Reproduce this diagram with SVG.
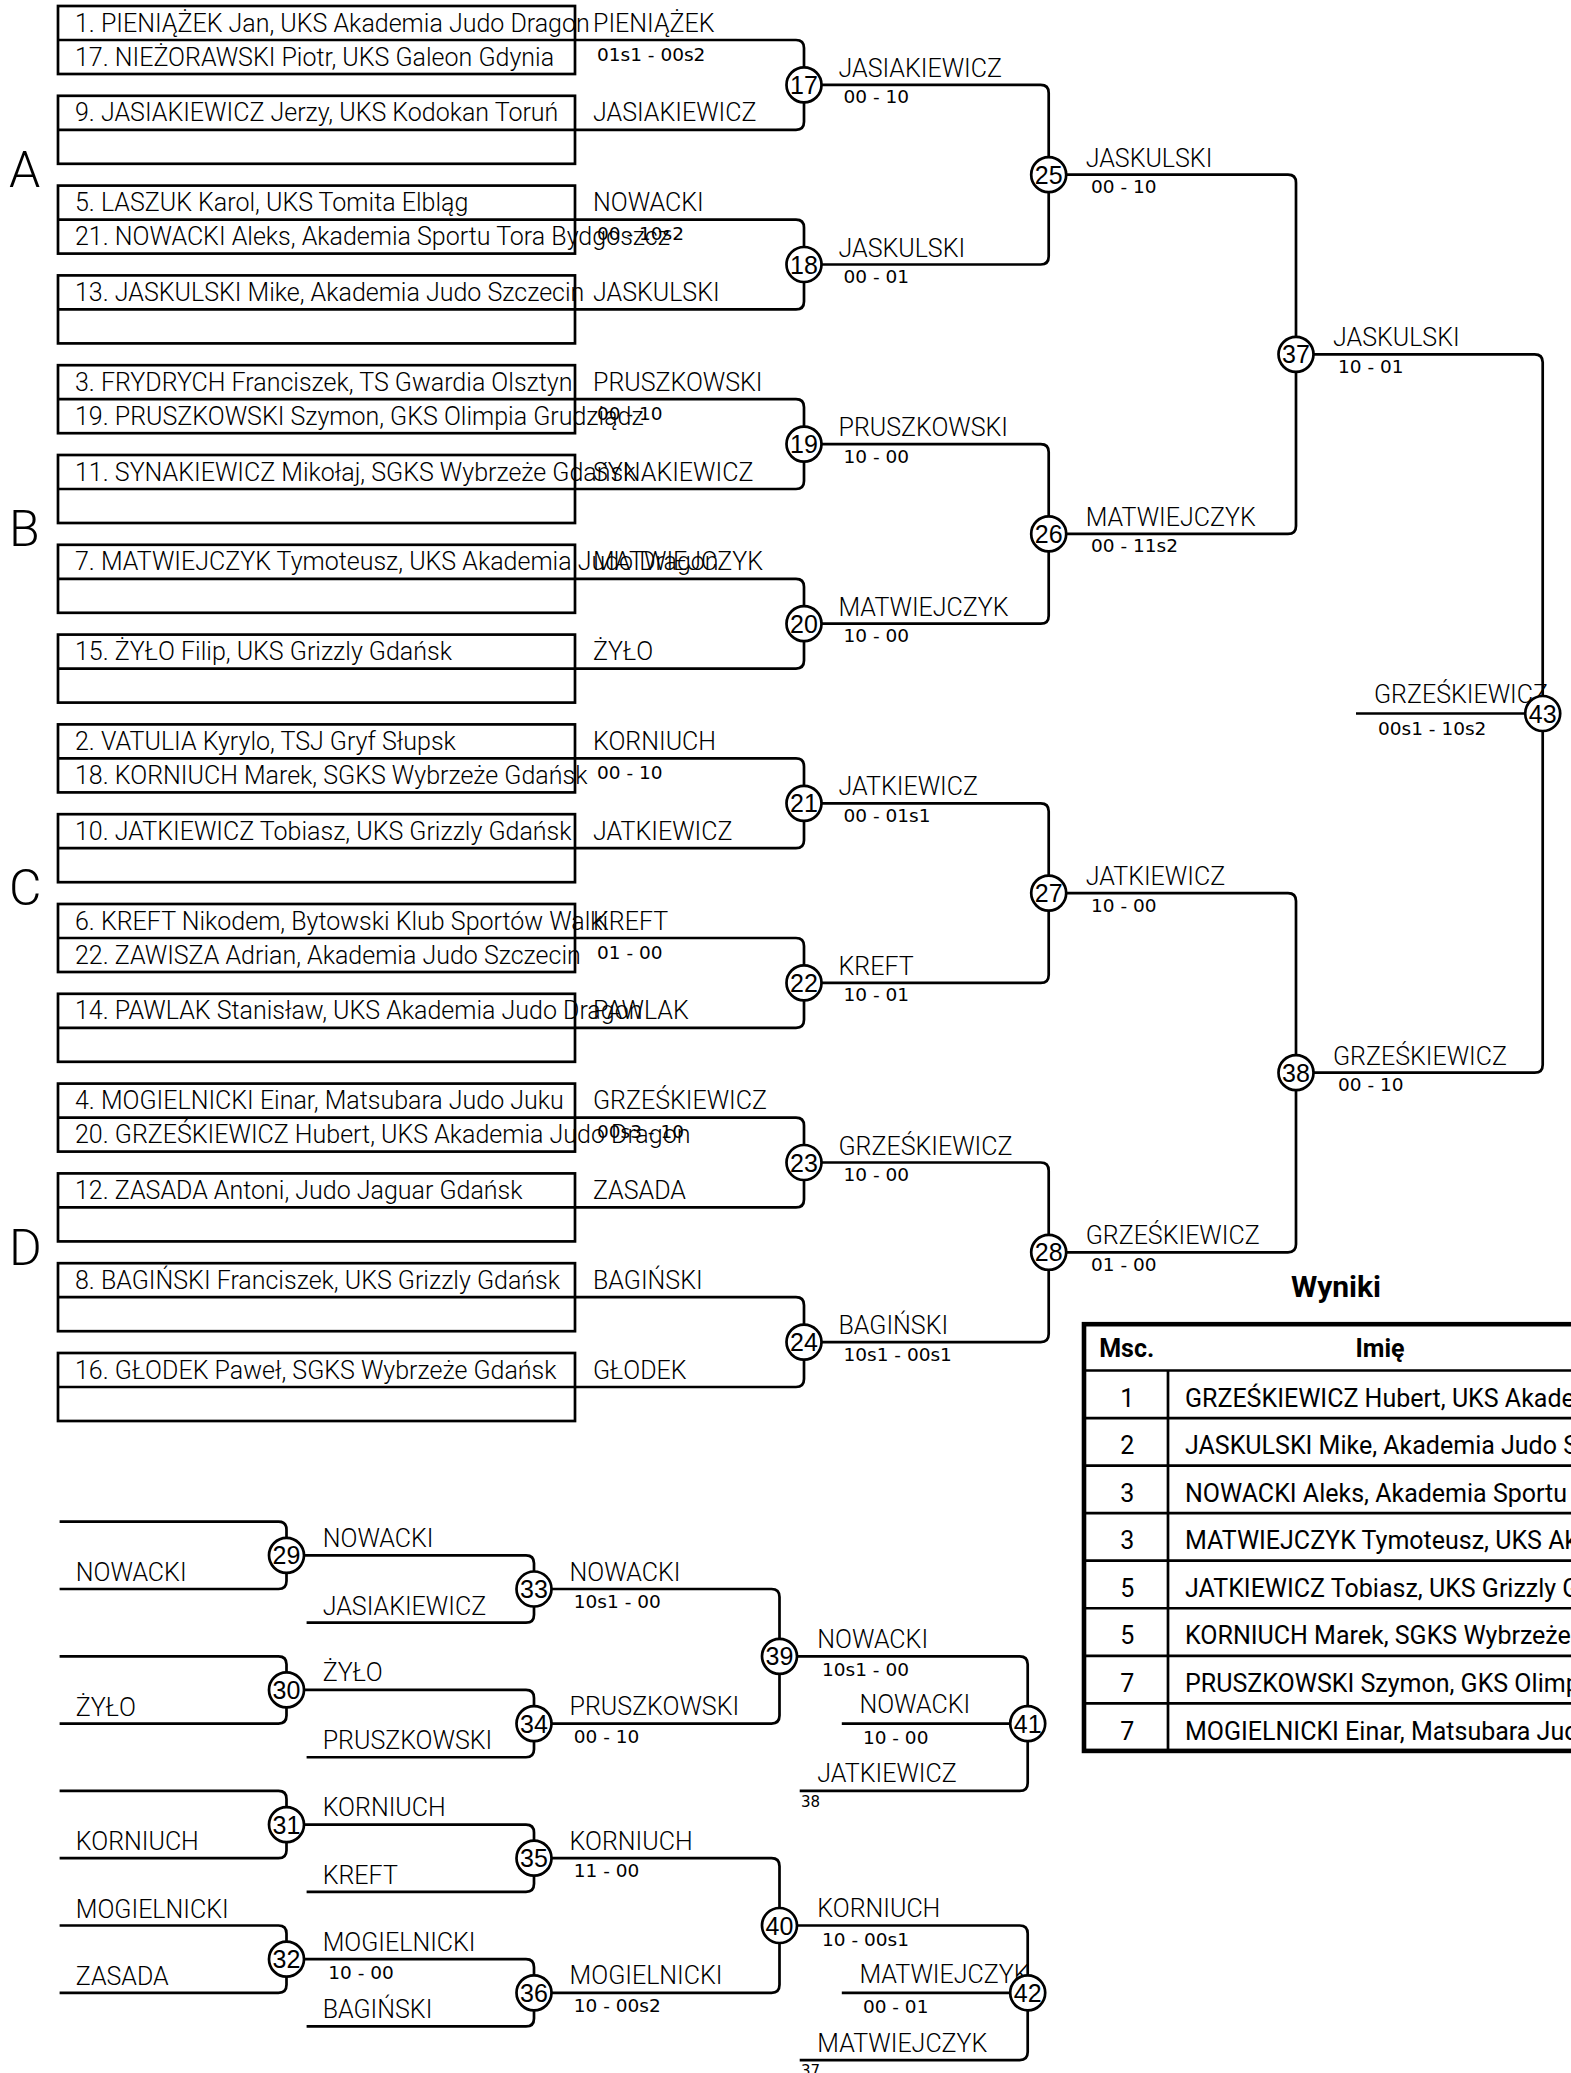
<svg xmlns="http://www.w3.org/2000/svg" width="1571" height="2073" viewBox="0 0 1571 2073">
<style>
.bx{fill:none;stroke:#000;stroke-width:2.7}
.ln{fill:none;stroke:#000;stroke-width:2.7}
.cc{fill:#fff;stroke:#000;stroke-width:2.7}
.nm{font-family:Roboto,"Liberation Sans",sans-serif;font-size:25px;font-weight:300;fill:#000}
.sc{font-family:"DejaVu Sans",sans-serif;font-size:18.5px;fill:#000}
.sm{font-family:"DejaVu Sans",sans-serif;font-size:15px;fill:#000}
.cn{font-family:"Liberation Sans",Arial,sans-serif;font-size:25px;text-anchor:middle;fill:#000}
.gl{font-family:Roboto,"Liberation Sans",sans-serif;font-size:50px;font-weight:300;fill:#000}
.th{font-family:Roboto,"Liberation Sans",sans-serif;font-size:25px;font-weight:700;fill:#000}
.td{font-family:Roboto,"Liberation Sans",sans-serif;font-size:25px;font-weight:400;fill:#000}
.mid{text-anchor:middle}
</style>
<rect width="1571" height="2073" fill="#fff"/>

<g id="connectors">
<path class="ln" d="M575 40H796Q804 40 804 48V121.8Q804 129.8 796 129.8H575"/>
<path class="ln" d="M575 219.6H796Q804 219.6 804 227.6V301.4Q804 309.4 796 309.4H575"/>
<path class="ln" d="M575 399.2H796Q804 399.2 804 407.2V481Q804 489 796 489H575"/>
<path class="ln" d="M575 578.8H796Q804 578.8 804 586.8V660.6Q804 668.6 796 668.6H575"/>
<path class="ln" d="M575 758.4H796Q804 758.4 804 766.4V840.2Q804 848.2 796 848.2H575"/>
<path class="ln" d="M575 938H796Q804 938 804 946V1019.8Q804 1027.8 796 1027.8H575"/>
<path class="ln" d="M575 1117.6H796Q804 1117.6 804 1125.6V1199.4Q804 1207.4 796 1207.4H575"/>
<path class="ln" d="M575 1297.2H796Q804 1297.2 804 1305.2V1379Q804 1387 796 1387H575"/>
<path class="ln" d="M804 84.9H1040.7Q1048.7 84.9 1048.7 92.9V256.5Q1048.7 264.5 1040.7 264.5H804"/>
<path class="ln" d="M804 444.1H1040.7Q1048.7 444.1 1048.7 452.1V615.7Q1048.7 623.7 1040.7 623.7H804"/>
<path class="ln" d="M804 803.3H1040.7Q1048.7 803.3 1048.7 811.3V974.9Q1048.7 982.9 1040.7 982.9H804"/>
<path class="ln" d="M804 1162.5H1040.7Q1048.7 1162.5 1048.7 1170.5V1334.1Q1048.7 1342.1 1040.7 1342.1H804"/>
<path class="ln" d="M1048.7 174.7H1288Q1296 174.7 1296 182.7V525.9Q1296 533.9 1288 533.9H1048.7"/>
<path class="ln" d="M1048.7 893.1H1288Q1296 893.1 1296 901.1V1244.3Q1296 1252.3 1288 1252.3H1048.7"/>
<path class="ln" d="M1296 354.3H1534.7Q1542.7 354.3 1542.7 362.3V1064.7Q1542.7 1072.7 1534.7 1072.7H1296"/>
<path class="ln" d="M1356 713.5H1542.7"/>
<path class="ln" d="M59.6 1521.7H278.5Q286.5 1521.7 286.5 1529.7V1581Q286.5 1589 278.5 1589H59.6"/>
<path class="ln" d="M59.6 1656.3H278.5Q286.5 1656.3 286.5 1664.3V1715.6Q286.5 1723.6 278.5 1723.6H59.6"/>
<path class="ln" d="M59.6 1790.9H278.5Q286.5 1790.9 286.5 1798.9V1850.2Q286.5 1858.2 278.5 1858.2H59.6"/>
<path class="ln" d="M59.6 1925.5H278.5Q286.5 1925.5 286.5 1933.5V1984.8Q286.5 1992.8 278.5 1992.8H59.6"/>
<path class="ln" d="M286.5 1555.35H526Q534 1555.35 534 1563.35V1614.65Q534 1622.65 526 1622.65H306.6"/>
<path class="ln" d="M286.5 1689.95H526Q534 1689.95 534 1697.95V1749.25Q534 1757.25 526 1757.25H306.6"/>
<path class="ln" d="M286.5 1824.55H526Q534 1824.55 534 1832.55V1883.85Q534 1891.85 526 1891.85H306.6"/>
<path class="ln" d="M286.5 1959.15H526Q534 1959.15 534 1967.15V2018.45Q534 2026.45 526 2026.45H306.6"/>
<path class="ln" d="M534 1589H771.5Q779.5 1589 779.5 1597V1715.6Q779.5 1723.6 771.5 1723.6H534"/>
<path class="ln" d="M534 1858.2H771.5Q779.5 1858.2 779.5 1866.2V1984.8Q779.5 1992.8 771.5 1992.8H534"/>
<path class="ln" d="M779.5 1656.3H1019.7Q1027.7 1656.3 1027.7 1664.3V1782.9Q1027.7 1790.9 1019.7 1790.9H799.7"/>
<path class="ln" d="M841.8 1723.6H1027.7"/>
<path class="ln" d="M779.5 1925.5H1019.7Q1027.7 1925.5 1027.7 1933.5V2052.1Q1027.7 2060.1 1019.7 2060.1H799.7"/>
<path class="ln" d="M841.8 1992.8H1027.7"/>
</g>

<g id="pool-letters">
<text class="gl" x="9" y="187">A</text>
<text class="gl" x="9" y="546">B</text>
<text class="gl" x="9" y="905">C</text>
<text class="gl" x="9" y="1264.5">D</text>
</g>

<g id="pair-0"><rect class="bx" x="58" y="6" width="517" height="68"/><line class="bx" x1="58" y1="40" x2="575" y2="40"/>
<text class="nm" x="75" y="31.5">1. PIENIĄŻEK Jan, UKS Akademia Judo Dragon</text><text class="nm" x="75" y="65.5">17. NIEŻORAWSKI Piotr, UKS Galeon Gdynia</text>
<text class="nm" x="593" y="31.5">PIENIĄŻEK</text><text class="sc" x="597" y="60.5">01s1 - 00s2</text></g>
<g id="pair-1"><rect class="bx" x="58" y="95.8" width="517" height="68"/><line class="bx" x1="58" y1="129.8" x2="575" y2="129.8"/>
<text class="nm" x="75" y="121.3">9. JASIAKIEWICZ Jerzy, UKS Kodokan Toruń</text><text class="nm" x="593" y="121.3">JASIAKIEWICZ</text></g>
<g id="pair-2"><rect class="bx" x="58" y="185.6" width="517" height="68"/><line class="bx" x1="58" y1="219.6" x2="575" y2="219.6"/>
<text class="nm" x="75" y="211.1">5. LASZUK Karol, UKS Tomita Elbląg</text><text class="nm" x="75" y="245.1">21. NOWACKI Aleks, Akademia Sportu Tora Bydgoszcz</text>
<text class="nm" x="593" y="211.1">NOWACKI</text><text class="sc" x="597" y="240.1">00 - 10s2</text></g>
<g id="pair-3"><rect class="bx" x="58" y="275.4" width="517" height="68"/><line class="bx" x1="58" y1="309.4" x2="575" y2="309.4"/>
<text class="nm" x="75" y="300.9">13. JASKULSKI Mike, Akademia Judo Szczecin</text><text class="nm" x="593" y="300.9">JASKULSKI</text></g>
<g id="pair-4"><rect class="bx" x="58" y="365.2" width="517" height="68"/><line class="bx" x1="58" y1="399.2" x2="575" y2="399.2"/>
<text class="nm" x="75" y="390.7">3. FRYDRYCH Franciszek, TS Gwardia Olsztyn</text><text class="nm" x="75" y="424.7">19. PRUSZKOWSKI Szymon, GKS Olimpia Grudziądz</text>
<text class="nm" x="593" y="390.7">PRUSZKOWSKI</text><text class="sc" x="597" y="419.7">00 - 10</text></g>
<g id="pair-5"><rect class="bx" x="58" y="455" width="517" height="68"/><line class="bx" x1="58" y1="489" x2="575" y2="489"/>
<text class="nm" x="75" y="480.5">11. SYNAKIEWICZ Mikołaj, SGKS Wybrzeże Gdańsk</text><text class="nm" x="593" y="480.5">SYNAKIEWICZ</text></g>
<g id="pair-6"><rect class="bx" x="58" y="544.8" width="517" height="68"/><line class="bx" x1="58" y1="578.8" x2="575" y2="578.8"/>
<text class="nm" x="75" y="570.3">7. MATWIEJCZYK Tymoteusz, UKS Akademia Judo Dragon</text><text class="nm" x="593" y="570.3">MATWIEJCZYK</text></g>
<g id="pair-7"><rect class="bx" x="58" y="634.6" width="517" height="68"/><line class="bx" x1="58" y1="668.6" x2="575" y2="668.6"/>
<text class="nm" x="75" y="660.1">15. ŻYŁO Filip, UKS Grizzly Gdańsk</text><text class="nm" x="593" y="660.1">ŻYŁO</text></g>
<g id="pair-8"><rect class="bx" x="58" y="724.4" width="517" height="68"/><line class="bx" x1="58" y1="758.4" x2="575" y2="758.4"/>
<text class="nm" x="75" y="749.9">2. VATULIA Kyrylo, TSJ Gryf Słupsk</text><text class="nm" x="75" y="783.9">18. KORNIUCH Marek, SGKS Wybrzeże Gdańsk</text>
<text class="nm" x="593" y="749.9">KORNIUCH</text><text class="sc" x="597" y="778.9">00 - 10</text></g>
<g id="pair-9"><rect class="bx" x="58" y="814.2" width="517" height="68"/><line class="bx" x1="58" y1="848.2" x2="575" y2="848.2"/>
<text class="nm" x="75" y="839.7">10. JATKIEWICZ Tobiasz, UKS Grizzly Gdańsk</text><text class="nm" x="593" y="839.7">JATKIEWICZ</text></g>
<g id="pair-10"><rect class="bx" x="58" y="904" width="517" height="68"/><line class="bx" x1="58" y1="938" x2="575" y2="938"/>
<text class="nm" x="75" y="929.5">6. KREFT Nikodem, Bytowski Klub Sportów Walki</text><text class="nm" x="75" y="963.5">22. ZAWISZA Adrian, Akademia Judo Szczecin</text>
<text class="nm" x="593" y="929.5">KREFT</text><text class="sc" x="597" y="958.5">01 - 00</text></g>
<g id="pair-11"><rect class="bx" x="58" y="993.8" width="517" height="68"/><line class="bx" x1="58" y1="1027.8" x2="575" y2="1027.8"/>
<text class="nm" x="75" y="1019.3">14. PAWLAK Stanisław, UKS Akademia Judo Dragon</text><text class="nm" x="593" y="1019.3">PAWLAK</text></g>
<g id="pair-12"><rect class="bx" x="58" y="1083.6" width="517" height="68"/><line class="bx" x1="58" y1="1117.6" x2="575" y2="1117.6"/>
<text class="nm" x="75" y="1109.1">4. MOGIELNICKI Einar, Matsubara Judo Juku</text><text class="nm" x="75" y="1143.1">20. GRZEŚKIEWICZ Hubert, UKS Akademia Judo Dragon</text>
<text class="nm" x="593" y="1109.1">GRZEŚKIEWICZ</text><text class="sc" x="597" y="1138.1">00s3 - 10</text></g>
<g id="pair-13"><rect class="bx" x="58" y="1173.4" width="517" height="68"/><line class="bx" x1="58" y1="1207.4" x2="575" y2="1207.4"/>
<text class="nm" x="75" y="1198.9">12. ZASADA Antoni, Judo Jaguar Gdańsk</text><text class="nm" x="593" y="1198.9">ZASADA</text></g>
<g id="pair-14"><rect class="bx" x="58" y="1263.2" width="517" height="68"/><line class="bx" x1="58" y1="1297.2" x2="575" y2="1297.2"/>
<text class="nm" x="75" y="1288.7">8. BAGIŃSKI Franciszek, UKS Grizzly Gdańsk</text><text class="nm" x="593" y="1288.7">BAGIŃSKI</text></g>
<g id="pair-15"><rect class="bx" x="58" y="1353" width="517" height="68"/><line class="bx" x1="58" y1="1387" x2="575" y2="1387"/>
<text class="nm" x="75" y="1378.5">16. GŁODEK Paweł, SGKS Wybrzeże Gdańsk</text><text class="nm" x="593" y="1378.5">GŁODEK</text></g>

<g id="m17"><circle class="cc" cx="804" cy="84.9" r="17.5"/><text class="cn" x="804" y="93.9">17</text><text class="nm" x="838.5" y="76.9">JASIAKIEWICZ</text><text class="sc" x="843.5" y="103.4">00 - 10</text></g>
<g id="m18"><circle class="cc" cx="804" cy="264.5" r="17.5"/><text class="cn" x="804" y="273.5">18</text><text class="nm" x="838.5" y="256.5">JASKULSKI</text><text class="sc" x="843.5" y="283">00 - 01</text></g>
<g id="m19"><circle class="cc" cx="804" cy="444.1" r="17.5"/><text class="cn" x="804" y="453.1">19</text><text class="nm" x="838.5" y="436.1">PRUSZKOWSKI</text><text class="sc" x="843.5" y="462.6">10 - 00</text></g>
<g id="m20"><circle class="cc" cx="804" cy="623.7" r="17.5"/><text class="cn" x="804" y="632.7">20</text><text class="nm" x="838.5" y="615.7">MATWIEJCZYK</text><text class="sc" x="843.5" y="642.2">10 - 00</text></g>
<g id="m21"><circle class="cc" cx="804" cy="803.3" r="17.5"/><text class="cn" x="804" y="812.3">21</text><text class="nm" x="838.5" y="795.3">JATKIEWICZ</text><text class="sc" x="843.5" y="821.8">00 - 01s1</text></g>
<g id="m22"><circle class="cc" cx="804" cy="982.9" r="17.5"/><text class="cn" x="804" y="991.9">22</text><text class="nm" x="838.5" y="974.9">KREFT</text><text class="sc" x="843.5" y="1001.4">10 - 01</text></g>
<g id="m23"><circle class="cc" cx="804" cy="1162.5" r="17.5"/><text class="cn" x="804" y="1171.5">23</text><text class="nm" x="838.5" y="1154.5">GRZEŚKIEWICZ</text><text class="sc" x="843.5" y="1181">10 - 00</text></g>
<g id="m24"><circle class="cc" cx="804" cy="1342.1" r="17.5"/><text class="cn" x="804" y="1351.1">24</text><text class="nm" x="838.5" y="1334.1">BAGIŃSKI</text><text class="sc" x="843.5" y="1360.6">10s1 - 00s1</text></g>

<g id="m25"><circle class="cc" cx="1048.7" cy="174.7" r="17.5"/><text class="cn" x="1048.7" y="183.7">25</text><text class="nm" x="1085.7" y="166.7">JASKULSKI</text><text class="sc" x="1091" y="193.2">00 - 10</text></g>
<g id="m26"><circle class="cc" cx="1048.7" cy="533.9" r="17.5"/><text class="cn" x="1048.7" y="542.9">26</text><text class="nm" x="1085.7" y="525.9">MATWIEJCZYK</text><text class="sc" x="1091" y="552.4">00 - 11s2</text></g>
<g id="m27"><circle class="cc" cx="1048.7" cy="893.1" r="17.5"/><text class="cn" x="1048.7" y="902.1">27</text><text class="nm" x="1085.7" y="885.1">JATKIEWICZ</text><text class="sc" x="1091" y="911.6">10 - 00</text></g>
<g id="m28"><circle class="cc" cx="1048.7" cy="1252.3" r="17.5"/><text class="cn" x="1048.7" y="1261.3">28</text><text class="nm" x="1085.7" y="1244.3">GRZEŚKIEWICZ</text><text class="sc" x="1091" y="1270.8">01 - 00</text></g>

<g id="m37"><circle class="cc" cx="1296" cy="354.3" r="17.5"/><text class="cn" x="1296" y="363.3">37</text><text class="nm" x="1333" y="346.3">JASKULSKI</text><text class="sc" x="1338" y="372.8">10 - 01</text></g>
<g id="m38"><circle class="cc" cx="1296" cy="1072.7" r="17.5"/><text class="cn" x="1296" y="1081.7">38</text><text class="nm" x="1333" y="1064.7">GRZEŚKIEWICZ</text><text class="sc" x="1338" y="1091.2">00 - 10</text></g>

<g id="m43"><text class="nm" x="1374" y="702.5">GRZEŚKIEWICZ</text><text class="sc" x="1378" y="735">00s1 - 10s2</text><circle class="cc" cx="1542.7" cy="713.5" r="17.5"/><text class="cn" x="1542.7" y="722.5">43</text></g>

<g id="rep-labels">
<text class="nm" x="75.8" y="1581">NOWACKI</text>
<text class="nm" x="75.8" y="1715.6">ŻYŁO</text>
<text class="nm" x="75.8" y="1850.2">KORNIUCH</text>
<text class="nm" x="75.8" y="1917.5">MOGIELNICKI</text>
<text class="nm" x="75.8" y="1984.8">ZASADA</text>
<text class="nm" x="322.7" y="1614.65">JASIAKIEWICZ</text>
<text class="nm" x="322.7" y="1749.25">PRUSZKOWSKI</text>
<text class="nm" x="322.7" y="1883.85">KREFT</text>
<text class="nm" x="322.7" y="2018.45">BAGIŃSKI</text>
<text class="nm" x="817.3" y="1782.2">JATKIEWICZ</text>
<text class="sm" x="801" y="1806.9">38</text>
<text class="nm" x="817.3" y="2051.6">MATWIEJCZYK</text>
<text class="sm" x="801" y="2076.1">37</text>
</g>

<g id="m29"><circle class="cc" cx="286.5" cy="1555.35" r="17.5"/><text class="cn" x="286.5" y="1564.35">29</text><text class="nm" x="322.7" y="1546.85">NOWACKI</text></g>
<g id="m30"><circle class="cc" cx="286.5" cy="1689.95" r="17.5"/><text class="cn" x="286.5" y="1698.95">30</text><text class="nm" x="322.7" y="1681.45">ŻYŁO</text></g>
<g id="m31"><circle class="cc" cx="286.5" cy="1824.55" r="17.5"/><text class="cn" x="286.5" y="1833.55">31</text><text class="nm" x="322.7" y="1816.05">KORNIUCH</text></g>
<g id="m32"><circle class="cc" cx="286.5" cy="1959.15" r="17.5"/><text class="cn" x="286.5" y="1968.15">32</text><text class="nm" x="322.7" y="1950.65">MOGIELNICKI</text><text class="sc" x="328.3" y="1979.15">10 - 00</text></g>
<g id="m33"><circle class="cc" cx="534" cy="1589" r="17.5"/><text class="cn" x="534" y="1598">33</text><text class="nm" x="569.6" y="1580.5">NOWACKI</text><text class="sc" x="573.8" y="1608">10s1 - 00</text></g>
<g id="m34"><circle class="cc" cx="534" cy="1723.6" r="17.5"/><text class="cn" x="534" y="1732.6">34</text><text class="nm" x="569.6" y="1715.1">PRUSZKOWSKI</text><text class="sc" x="573.8" y="1742.6">00 - 10</text></g>
<g id="m35"><circle class="cc" cx="534" cy="1858.2" r="17.5"/><text class="cn" x="534" y="1867.2">35</text><text class="nm" x="569.6" y="1849.7">KORNIUCH</text><text class="sc" x="573.8" y="1877.2">11 - 00</text></g>
<g id="m36"><circle class="cc" cx="534" cy="1992.8" r="17.5"/><text class="cn" x="534" y="2001.8">36</text><text class="nm" x="569.6" y="1984.3">MOGIELNICKI</text><text class="sc" x="573.8" y="2011.8">10 - 00s2</text></g>
<g id="m39"><circle class="cc" cx="779.5" cy="1656.3" r="17.5"/><text class="cn" x="779.5" y="1665.3">39</text><text class="nm" x="817.3" y="1647.8">NOWACKI</text><text class="sc" x="822" y="1676.3">10s1 - 00</text></g>
<g id="m40"><circle class="cc" cx="779.5" cy="1925.5" r="17.5"/><text class="cn" x="779.5" y="1934.5">40</text><text class="nm" x="817.3" y="1917">KORNIUCH</text><text class="sc" x="822" y="1945.5">10 - 00s1</text></g>
<g id="m41"><text class="nm" x="859.4" y="1713.1">NOWACKI</text><text class="sc" x="862.9" y="1743.6">10 - 00</text><circle class="cc" cx="1027.7" cy="1723.6" r="17.5"/><text class="cn" x="1027.7" y="1732.6">41</text></g>
<g id="m42"><text class="nm" x="859.4" y="1982.8">MATWIEJCZYK</text><text class="sc" x="862.9" y="2012.8">00 - 01</text><circle class="cc" cx="1027.7" cy="1992.8" r="17.5"/><text class="cn" x="1027.7" y="2001.8">42</text></g>

<g id="results">
<text class="th mid" x="1336" y="1297" style="font-size:30px">Wyniki</text>
<rect x="1084" y="1324.2" width="510" height="426.7" fill="none" stroke="#000" stroke-width="4.6"/>
<g class="ln">
<line x1="1084" y1="1370.5" x2="1594" y2="1370.5"/>
<line x1="1084" y1="1418.05" x2="1594" y2="1418.05"/>
<line x1="1084" y1="1465.6" x2="1594" y2="1465.6"/>
<line x1="1084" y1="1513.15" x2="1594" y2="1513.15"/>
<line x1="1084" y1="1560.7" x2="1594" y2="1560.7"/>
<line x1="1084" y1="1608.25" x2="1594" y2="1608.25"/>
<line x1="1084" y1="1655.8" x2="1594" y2="1655.8"/>
<line x1="1084" y1="1703.35" x2="1594" y2="1703.35"/>
<line x1="1168" y1="1370.5" x2="1168" y2="1750.9"/>
</g>
<text class="th mid" x="1126.7" y="1357.3">Msc.</text>
<text class="th mid" x="1380" y="1357.3">Imię</text>
<text class="td mid" x="1127.3" y="1406.7">1</text><text class="td" x="1185" y="1406.7">GRZEŚKIEWICZ Hubert, UKS Akademia Judo Dragon</text>
<text class="td mid" x="1127.3" y="1454.25">2</text><text class="td" x="1185" y="1454.25">JASKULSKI Mike, Akademia Judo Szczecin</text>
<text class="td mid" x="1127.3" y="1501.8">3</text><text class="td" x="1185" y="1501.8">NOWACKI Aleks, Akademia Sportu Tora Bydgoszcz</text>
<text class="td mid" x="1127.3" y="1549.35">3</text><text class="td" x="1185" y="1549.35">MATWIEJCZYK Tymoteusz, UKS Akademia Judo Dragon</text>
<text class="td mid" x="1127.3" y="1596.9">5</text><text class="td" x="1185" y="1596.9">JATKIEWICZ Tobiasz, UKS Grizzly Gdańsk</text>
<text class="td mid" x="1127.3" y="1644.45">5</text><text class="td" x="1185" y="1644.45">KORNIUCH Marek, SGKS Wybrzeże Gdańsk</text>
<text class="td mid" x="1127.3" y="1692">7</text><text class="td" x="1185" y="1692">PRUSZKOWSKI Szymon, GKS Olimpia Grudziądz</text>
<text class="td mid" x="1127.3" y="1739.55">7</text><text class="td" x="1185" y="1739.55">MOGIELNICKI Einar, Matsubara Judo Juku</text>
</g>
</svg>
